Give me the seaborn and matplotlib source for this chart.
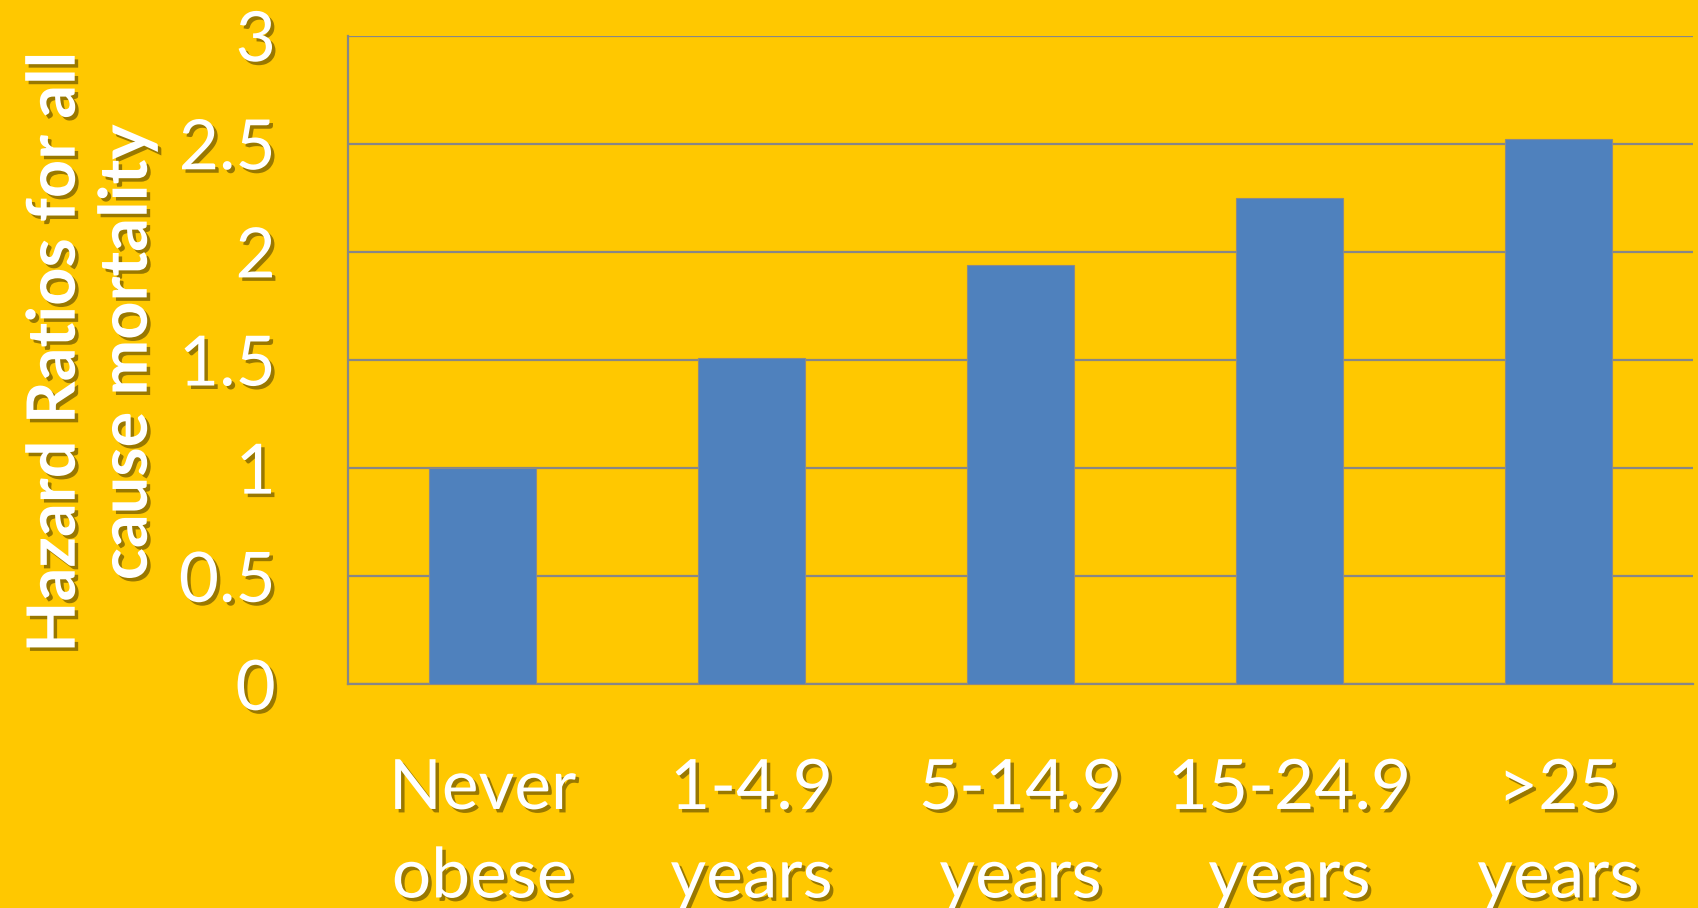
import numpy as np
import pandas as pd
import seaborn as sns
import matplotlib.pyplot as plt
import matplotlib.patheffects as pe

categories = ["Never\nobese", "1-4.9\nyears", "5-14.9\nyears", "15-24.9\nyears", ">25\nyears"]
hazard_ratios = [1.0, 1.51, 1.94, 2.25, 2.52]
y_ticks = [0, 0.5, 1, 1.5, 2, 2.5, 3]
y_tick_labels = ["0", "0.5", "1", "1.5", "2", "2.5", "3"]

BG = "#FFC800"
BAR = "#4F81BD"
GRID = "#878787"

sns.set_theme(style="white")
plt.rcParams["font.family"] = ["Lato", "DejaVu Sans"]

shadow = [pe.withSimplePatchShadow(offset=(2.5, -2.5), shadow_rgbFace="black", alpha=0.4)]

df = pd.DataFrame({"group": categories, "hr": hazard_ratios})

fig = plt.figure(figsize=(16.98, 9.08), dpi=100, facecolor=BG)
ax = fig.add_axes([0.205, 0.2463, 0.792, 0.7144])
ax.set_facecolor(BG)

sns.barplot(data=df, x="group", y="hr", color=BAR, width=0.4, saturation=1,
            edgecolor="#8a8a8a", linewidth=0.8, ax=ax, zorder=3)

ax.set_ylim(0, 3)
ax.set_xlim(-0.5, 4.5)
ax.set_yticks(y_ticks)
ax.yaxis.grid(True, color=GRID, linewidth=1.6, zorder=0)
ax.set_axisbelow(True)
for s in ["top", "right"]:
    ax.spines[s].set_visible(False)
for s in ["left", "bottom"]:
    ax.spines[s].set_color(GRID)
    ax.spines[s].set_linewidth(1.6)
ax.tick_params(axis="both", length=0)

ax.set_yticklabels(y_tick_labels, fontsize=50, color="white", fontweight="normal",
                   path_effects=shadow)
ax.tick_params(axis="y", pad=52)
ax.set_xticks(range(len(categories)))
ax.set_xticklabels(categories, fontsize=50, color="white", linespacing=1.5,
                   fontweight="normal", path_effects=shadow)
ax.tick_params(axis="x", pad=53)

ax.set_xlabel("")
ax.set_ylabel("")
fig.text(0.054, 0.612, "Hazard Ratios for all\ncause mortality", rotation=90,
         ha="center", va="center", multialignment="center", fontsize=48,
         fontweight="bold", color="white", linespacing=1.2, path_effects=shadow)

fig.savefig("out.png", dpi=100, facecolor=BG)
